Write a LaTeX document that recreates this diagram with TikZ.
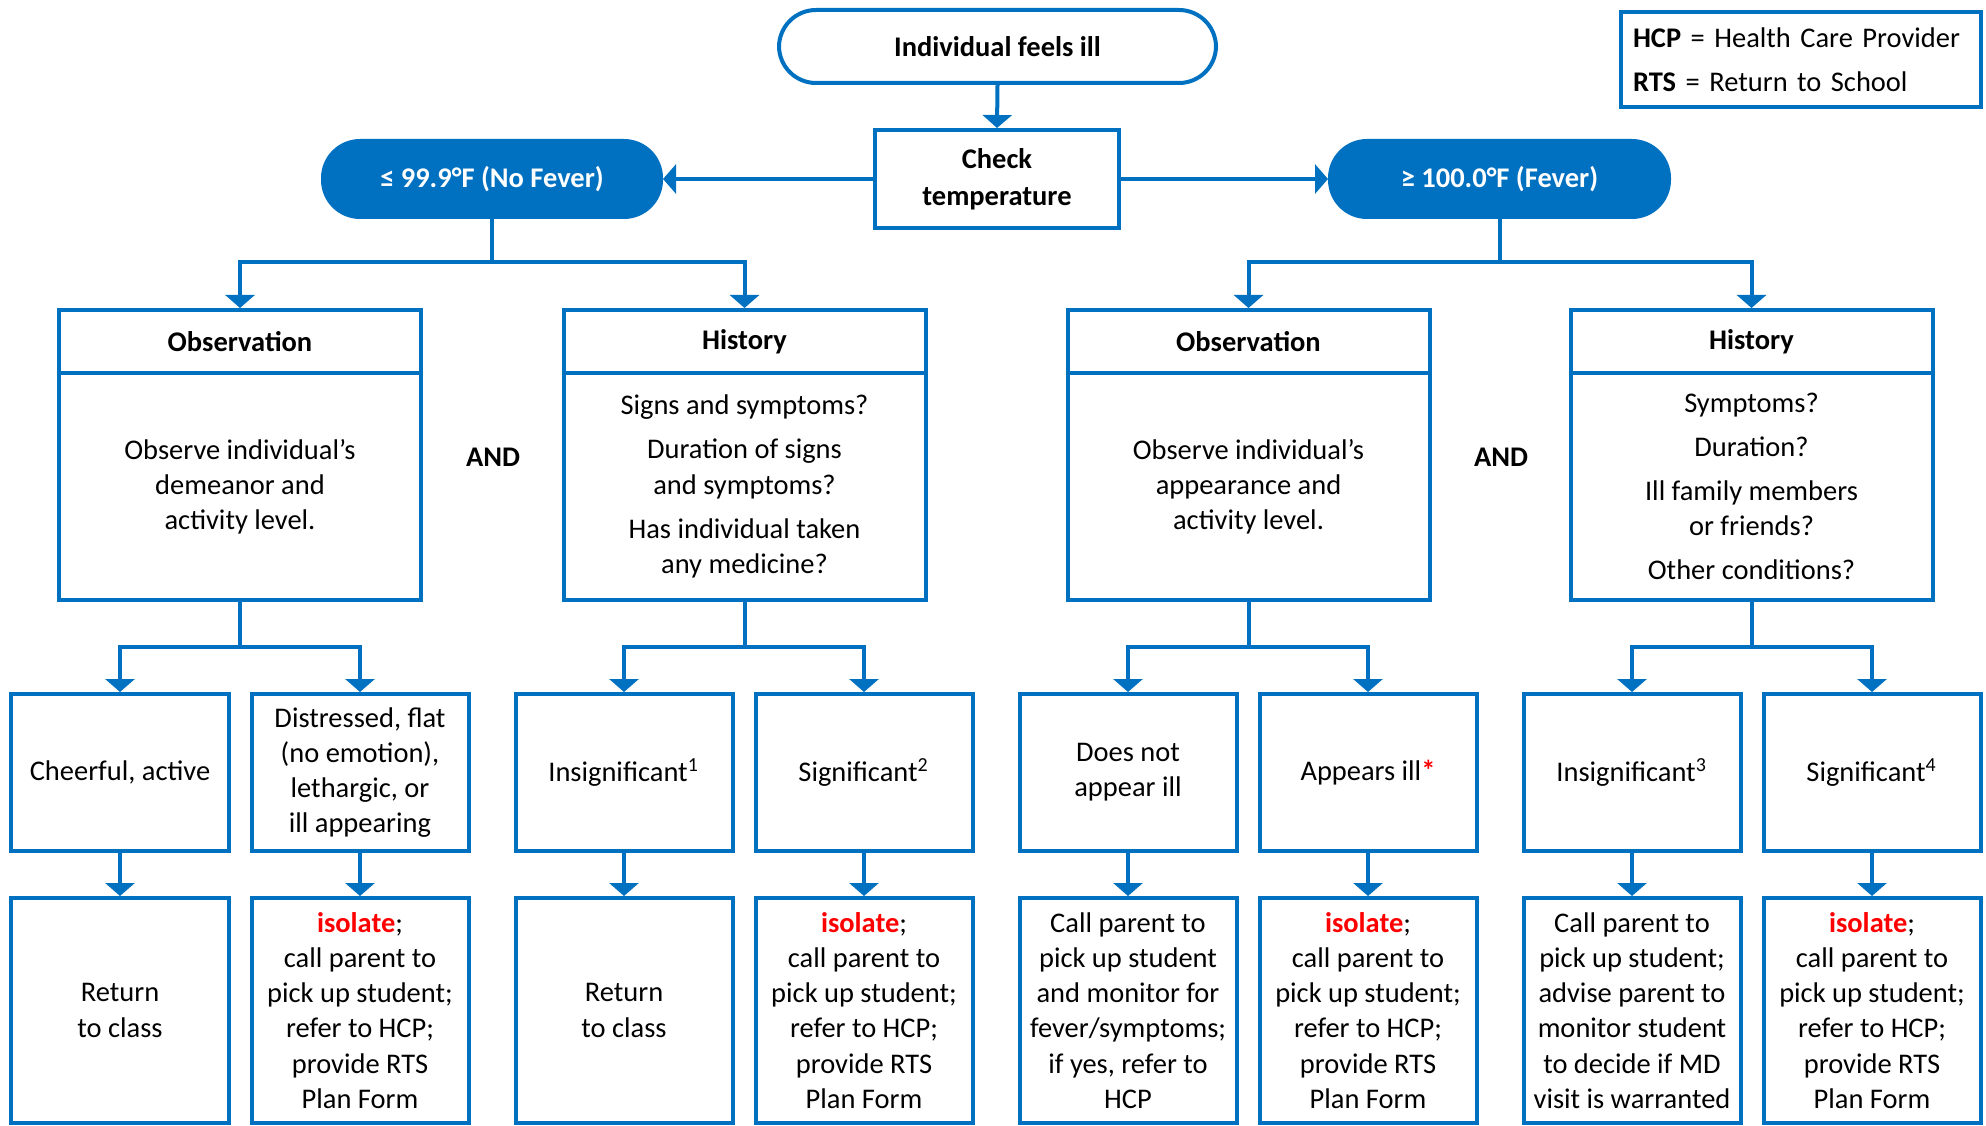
\documentclass[tikz,border=0pt]{standalone}
\usepackage{fontspec}
\setmainfont{Carlito}
\usetikzlibrary{arrows.meta}
\definecolor{flowblue}{HTML}{0070C0}
\definecolor{flowred}{HTML}{FF0000}
\newcommand{\isolate}{\textcolor{flowred}{\textbf{isolate}};}

\begin{document}
\begin{tikzpicture}
[
    every node/.style={font=\fontsize{8.1}{10}\selectfont},
    box/.style={rectangle, draw=flowblue, line width=0.4mm, align=center, inner sep=0pt},
    bold/.style={font=\fontsize{8.1}{10}\selectfont\bfseries},
    pill/.style={box, bold, rounded corners=3.7mm},
    tempbox/.style={pill, fill=flowblue, text=white, minimum width=3.38cm, minimum height=7.6mm},
    headbox/.style={box, bold, minimum width=3.62cm, minimum height=6.3mm},
    bodybox/.style={box, minimum width=3.62cm, minimum height=2.27cm},
    choice/.style={box, minimum width=2.17cm, minimum height=1.57cm},
    action/.style={box, minimum width=2.17cm, minimum height=2.25cm},
    arrow/.style={-{Triangle[length=1.3mm,width=2.9mm]}, draw=flowblue, line width=0.4mm},
]
    \useasboundingbox (0,0) rectangle (19.86,-11.26);

    % top
    \node[pill, minimum width=4.37cm, minimum height=7.3mm] (start) at (9.975,-0.465) {Individual feels ill};
    \node[box, bold, minimum width=2.44cm, minimum height=9.8mm] (check) at (9.97,-1.79) {Check\\[0.02cm]temperature};
    \node[tempbox] (nofever) at (4.92,-1.79) {≤ 99.9°F (No Fever)};
    \node[tempbox, minimum width=3.39cm] (fever) at (14.995,-1.79) {≥ 100.0°F (Fever)};
    \node[box, align=left, text width=3.36cm, minimum width=3.6cm, minimum height=9.5mm] (legend) at (18.01,-0.595)
        {\textbf{HCP} = Health Care Provider\\[0.09cm]\textbf{RTS} = Return to School};

    \draw[arrow] (start.south) -- (check.north);
    \draw[arrow] (check.west) -- (nofever.east);
    \draw[arrow] (check.east) -- (fever.west);

    % observation / history
    \node[headbox] (obsL) at (2.40,-3.415) {Observation};
    \node[bodybox] (obsLtext) at (2.40,-4.865) {Observe individual’s\\demeanor and\\activity level.};
    \node[headbox] (histL) at (7.445,-3.415) {History};
    \node[bodybox] (histLtext) at (7.445,-4.865)
        {Signs and symptoms?\\[0.09cm]Duration of signs\\and symptoms?\\[0.09cm]Has individual taken\\any medicine?};
    \node[headbox] (obsR) at (12.485,-3.415) {Observation};
    \node[bodybox] (obsRtext) at (12.485,-4.865) {Observe individual’s\\appearance and\\activity level.};
    \node[headbox] (histR) at (17.515,-3.415) {History};
    \node[bodybox] (histRtext) at (17.515,-4.865)
        {Symptoms?\\[0.09cm]Duration?\\[0.09cm]Ill family members\\or friends?\\[0.09cm]Other conditions?};
    \node[bold] (andL) at (4.93,-4.57) {AND};
    \node[bold] (andR) at (15.01,-4.57) {AND};

    \draw[arrow] (nofever.south) -- ++(0,-0.43) -| (obsL.north);
    \draw[arrow] (nofever.south) -- ++(0,-0.43) -| (histL.north);
    \draw[arrow] (fever.south) -- ++(0,-0.43) -| (obsR.north);
    \draw[arrow] (fever.south) -- ++(0,-0.43) -| (histR.north);

    % choices
    \node[choice] (cheer) at (1.20,-7.725) {Cheerful, active};
    \node[choice] (distress) at (3.60,-7.725) {Distressed, flat\\(no emotion),\\lethargic, or\\ill appearing};
    \node[choice] (insigL) at (6.24,-7.725) {Insignificant\textsuperscript{1}};
    \node[choice] (sigL) at (8.64,-7.725) {Significant\textsuperscript{2}};
    \node[choice] (noill) at (11.28,-7.725) {Does not\\appear ill};
    \node[choice] (ill) at (13.68,-7.725) {Appears ill\textcolor{flowred}{\textbf{*}}};
    \node[choice] (insigR) at (16.32,-7.725) {Insignificant\textsuperscript{3}};
    \node[choice] (sigR) at (18.72,-7.725) {Significant\textsuperscript{4}};

    \draw[arrow] (obsLtext.south) -- ++(0,-0.45) -| (cheer.north);
    \draw[arrow] (obsLtext.south) -- ++(0,-0.45) -| (distress.north);
    \draw[arrow] (histLtext.south) -- ++(0,-0.45) -| (insigL.north);
    \draw[arrow] (histLtext.south) -- ++(0,-0.45) -| (sigL.north);
    \draw[arrow] (obsRtext.south) -- ++(0,-0.45) -| (noill.north);
    \draw[arrow] (obsRtext.south) -- ++(0,-0.45) -| (ill.north);
    \draw[arrow] (histRtext.south) -- ++(0,-0.45) -| (insigR.north);
    \draw[arrow] (histRtext.south) -- ++(0,-0.45) -| (sigR.north);

    % actions
    \node[action] (classA) at (1.20,-10.105) {Return\\to class};
    \node[action] (isoA) at (3.60,-10.105) {\isolate\\call parent to\\pick up student;\\refer to HCP;\\provide RTS\\Plan Form};
    \node[action] (classB) at (6.24,-10.105) {Return\\to class};
    \node[action] (isoB) at (8.64,-10.105) {\isolate\\call parent to\\pick up student;\\refer to HCP;\\provide RTS\\Plan Form};
    \node[action] (callA) at (11.28,-10.105) {Call parent to\\pick up student\\and monitor for\\fever/symptoms;\\if yes, refer to\\HCP};
    \node[action] (isoC) at (13.68,-10.105) {\isolate\\call parent to\\pick up student;\\refer to HCP;\\provide RTS\\Plan Form};
    \node[action] (callB) at (16.32,-10.105) {Call parent to\\pick up student;\\advise parent to\\monitor student\\to decide if MD\\visit is warranted};
    \node[action] (isoD) at (18.72,-10.105) {\isolate\\call parent to\\pick up student;\\refer to HCP;\\provide RTS\\Plan Form};

    \draw[arrow] (cheer.south) -- (classA.north);
    \draw[arrow] (distress.south) -- (isoA.north);
    \draw[arrow] (insigL.south) -- (classB.north);
    \draw[arrow] (sigL.south) -- (isoB.north);
    \draw[arrow] (noill.south) -- (callA.north);
    \draw[arrow] (ill.south) -- (isoC.north);
    \draw[arrow] (insigR.south) -- (callB.north);
    \draw[arrow] (sigR.south) -- (isoD.north);
\end{tikzpicture}
\end{document}
